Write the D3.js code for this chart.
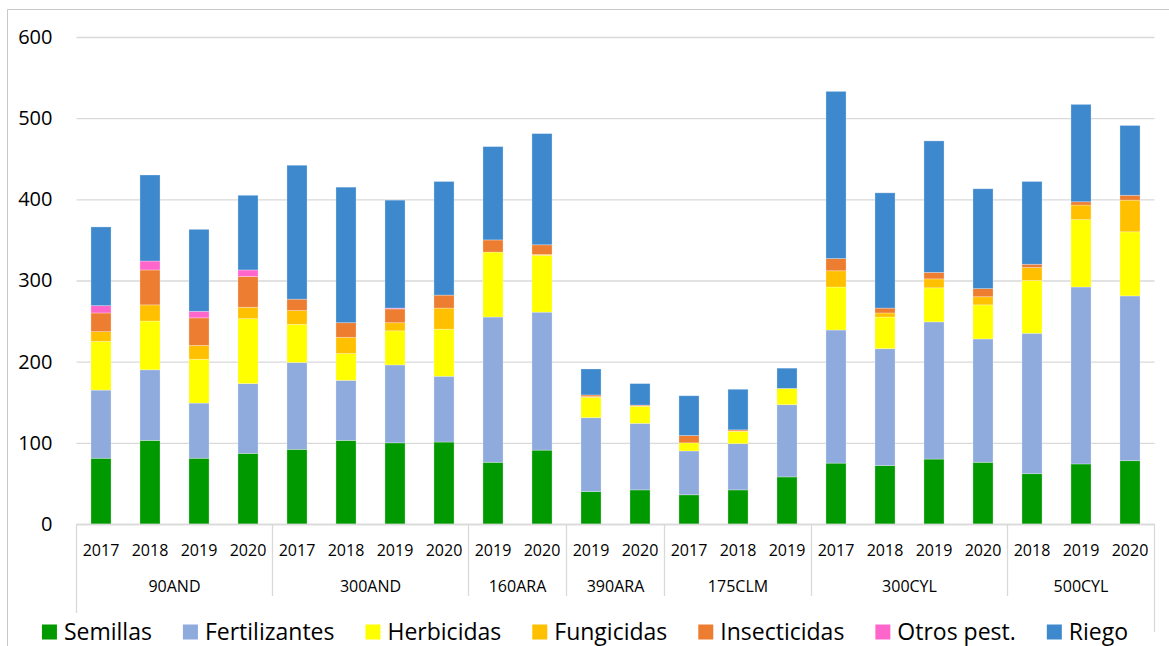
<!DOCTYPE html>
<html>
<head>
<meta charset="utf-8">
<script src="https://cdn.jsdelivr.net/npm/d3@7"></script>
<style>
  html, body { margin: 0; padding: 0; background: #fff; }
  svg { display: block; font-family: 'Open Sans', 'Noto Sans', sans-serif; }
</style>
</head>
<body>
<svg id="chart" width="1169" height="646"></svg>
<script>
const GROUPS = ['90AND', '300AND', '160ARA', '390ARA', '175CLM', '300CYL', '500CYL'];
const GROUP_YEARS = [
  ['2017', '2018', '2019', '2020'],
  ['2017', '2018', '2019', '2020'],
  ['2019', '2020'],
  ['2019', '2020'],
  ['2017', '2018', '2019'],
  ['2017', '2018', '2019', '2020'],
  ['2018', '2019', '2020']
];

const SERIES = ['Semillas', 'Fertilizantes', 'Herbicidas', 'Fungicidas', 'Insecticidas', 'Otros pest.', 'Riego'];

const semillas     = [81, 103, 81, 87,   92, 103, 100, 101,   76, 91,    40, 42,    36, 42, 58,    75, 72, 80, 76,      62, 74, 78];
const fertilizantes = [84, 87, 68, 86,   107, 74, 96, 81,     179, 170,  91, 82,    54, 57, 89,    164, 144, 169, 152,  173, 218, 203];
const herbicidas   = [60, 60, 54, 80,    47, 33, 42, 58,      80, 70,    25, 21,    10, 15, 20,    53, 39, 42, 42,      65, 83, 79];
const fungicidas   = [12, 20, 17, 14,    17, 20, 10, 26,      0, 1,      1, 0.5,    0, 0.5, 0,     20, 5, 11, 10,       16, 18, 39];
const insecticidas = [23, 43, 34, 38,    14, 18, 17, 16,      15, 12,    2, 1,      9, 1.5, 0,     15, 6, 8, 10,        4, 4, 6];
const otrosPest    = [9, 11, 8, 8,       0, 0, 1, 0,          0, 0,      0, 0,      0, 0, 0,       0, 0, 0, 0,          0, 0, 0];
const riego        = [97, 106, 101, 92,  165, 167, 133, 140,  115, 137,  32, 26.5,  49, 50, 25,    206, 142, 162, 123,  102, 120, 86];

const Y_TICKS = [0, 100, 200, 300, 400, 500, 600];

const COLORS = ['#009900', '#8FAADC', '#FFFF00', '#FFC000', '#ED7D31', '#FF66CC', '#3E89CD'];

function drawChart() {
  const svg = d3.select('#chart');
  const plot = { left: 76.5, right: 1154.5, top: 37, bottom: 524 };

  // outer chart border (cropped on right/bottom)
  svg.append('path')
    .attr('d', 'M7.5,646 V9.5 H1169')
    .attr('fill', 'none')
    .attr('stroke', '#c8c8c8')
    .attr('stroke-width', 1);

  const categories = [];
  GROUP_YEARS.forEach((years, gi) => {
    years.forEach(year => categories.push({ key: GROUPS[gi] + '|' + year, group: GROUPS[gi], year }));
  });

  const rows = categories.map((c, i) => ({
    key: c.key,
    Semillas: semillas[i],
    Fertilizantes: fertilizantes[i],
    Herbicidas: herbicidas[i],
    Fungicidas: fungicidas[i],
    Insecticidas: insecticidas[i],
    'Otros pest.': otrosPest[i],
    Riego: riego[i]
  }));

  const x = d3.scaleBand()
    .domain(categories.map(c => c.key))
    .range([plot.left, plot.right])
    .paddingInner(0.59)
    .paddingOuter(0.295);

  const y = d3.scaleLinear()
    .domain([0, 600])
    .range([plot.bottom, plot.top]);

  const color = d3.scaleOrdinal().domain(SERIES).range(COLORS);

  // gridlines + y labels
  const yAxis = svg.append('g')
    .attr('transform', `translate(${plot.left},0)`)
    .call(d3.axisLeft(y).tickValues(Y_TICKS).tickSize(-(plot.right - plot.left)).tickPadding(24));
  yAxis.select('.domain').remove();
  yAxis.selectAll('.tick line').attr('stroke', '#d9d9d9').attr('stroke-width', 1.3);
  yAxis.selectAll('.tick text')
    .attr('fill', '#000')
    .attr('font-size', 20)
    .attr('font-family', "'Open Sans', sans-serif");

  // stacked bars
  const stacked = d3.stack().keys(SERIES)(rows);
  svg.append('g')
    .selectAll('g')
    .data(stacked)
    .join('g')
    .attr('fill', d => color(d.key))
    .selectAll('rect')
    .data(d => d)
    .join('rect')
    .attr('x', d => x(d.data.key))
    .attr('width', x.bandwidth())
    .attr('y', d => y(d[1]))
    .attr('height', d => Math.max(0, y(d[0]) - y(d[1])))
    .attr('stroke', '#ffffff')
    .attr('stroke-opacity', d => (d[1] - d[0] > 0 ? 0.35 : 0))
    .attr('stroke-width', 0.8);

  // category axis
  const step = x.step();
  const xAxis = svg.append('g')
    .attr('transform', `translate(0,${plot.bottom})`)
    .call(d3.axisBottom(x).tickSize(0).tickFormat(k => k.split('|')[1]));
  xAxis.select('.domain').attr('stroke', '#d9d9d9').attr('stroke-width', 1.3);
  xAxis.selectAll('.tick text')
    .attr('y', 26)
    .attr('dy', '0.35em')
    .attr('fill', '#000')
    .attr('font-size', 16)
    .attr('font-family', "'Open Sans', sans-serif");

  // group separators and labels
  const sepGroup = svg.append('g');
  let idx = 0;
  const boundaries = [];
  GROUP_YEARS.forEach((years, gi) => {
    const first = categories[idx].key;
    const last = categories[idx + years.length - 1].key;
    const x0 = x(first) - (step - x.bandwidth()) / 2;
    const x1 = x(last) + x.bandwidth() + (step - x.bandwidth()) / 2;
    boundaries.push(x0);
    if (gi === GROUP_YEARS.length - 1) boundaries.push(x1);
    sepGroup.append('text')
      .attr('x', (x0 + x1) / 2)
      .attr('y', 586)
      .attr('dy', '0.35em')
      .attr('text-anchor', 'middle')
      .attr('font-size', 16)
      .attr('fill', '#000')
      .text(GROUPS[gi]);
    idx += years.length;
  });

  sepGroup.selectAll('line')
    .data(boundaries)
    .join('line')
    .attr('x1', d => d)
    .attr('x2', d => d)
    .attr('y1', plot.bottom)
    .attr('y2', (d, i) => (i === 0 ? 613 : i === boundaries.length - 1 ? 632 : 596))
    .attr('stroke', '#d9d9d9')
    .attr('stroke-width', 1.3);

  // legend
  const legend = svg.append('g');
  const items = legend.selectAll('g')
    .data(SERIES)
    .join('g');
  items.append('rect')
    .attr('width', 15)
    .attr('height', 15)
    .attr('y', -7.5)
    .attr('fill', d => color(d));
  items.append('text')
    .attr('x', 22)
    .attr('dy', '0.35em')
    .attr('font-size', 23)
    .attr('fill', '#000')
    .text(d => d);

  let cursor = 0;
  const gap = 31;
  items.each(function () {
    const g = d3.select(this);
    const w = 22 + g.select('text').node().getComputedTextLength();
    g.attr('transform', `translate(${cursor},0)`);
    cursor += w + gap;
  });
  const total = cursor - gap;
  legend.attr('transform', `translate(${585 - total / 2},632)`);
}

window.addEventListener('DOMContentLoaded', drawChart);
</script>
</body>
</html>
